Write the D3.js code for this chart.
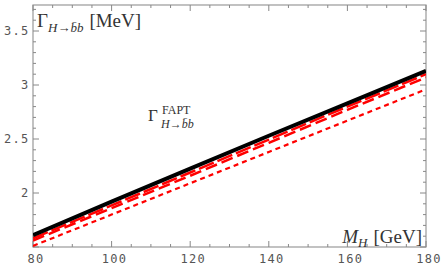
<!DOCTYPE html>
<html>
<head>
<meta charset="utf-8">
<script src="https://cdn.jsdelivr.net/npm/d3@7"></script>
<style>
  body { margin: 0; background: #fff; }
  .tick-label { font-family: "DejaVu Sans Mono", monospace; font-size: 12px; fill: #555; letter-spacing: 1.3px; }
  .math { font-family: "Liberation Serif", serif; fill: #333; }
</style>
</head>
<body>
<svg id="chart" width="441" height="273"></svg>
<script>
// values
const massH = [80, 100, 120, 140, 160, 180];
const gammaBlack = [1.61, 1.92, 2.225, 2.53, 2.83, 3.13];
const gammaLongDash = [1.58, 1.885, 2.19, 2.495, 2.80, 3.10];
const gammaMidDash = [1.56, 1.86, 2.16, 2.465, 2.77, 3.07];
const gammaShortDash = [1.51, 1.80, 2.09, 2.38, 2.67, 2.96];
const xTicks = [80, 100, 120, 140, 160, 180];
const yTicks = [2, 2.5, 3, 3.5];

const svg = d3.select('#chart');
const plotL = 33, plotR = 426, plotT = 5, plotB = 247;

const x = d3.scaleLinear().domain([80, 180]).range([plotL, plotR]);
const y = d3.scaleLinear().domain([2, 3]).range([193, 85]);

// frame
svg.append('rect')
    .attr('x', plotL).attr('y', plotT)
    .attr('width', plotR - plotL).attr('height', plotB - plotT)
    .attr('fill', 'none').attr('stroke', '#999').attr('stroke-width', 1.2);

// ticks on all four sides
const tickCol = '#888';
d3.range(80, 181, 5).forEach(v => {
    const len = v % 20 === 0 ? 6 : 3;
    svg.append('line').attr('x1', x(v)).attr('x2', x(v)).attr('y1', plotB).attr('y2', plotB - len).attr('stroke', tickCol);
    svg.append('line').attr('x1', x(v)).attr('x2', x(v)).attr('y1', plotT).attr('y2', plotT + len).attr('stroke', tickCol);
});
d3.range(15, 38).map(d => d / 10).forEach(v => {
    if (y(v) < plotT || y(v) > plotB) return;
    const len = Math.abs(v * 2 - Math.round(v * 2)) < 1e-6 ? 6 : 3;
    svg.append('line').attr('x1', plotL).attr('x2', plotL + len).attr('y1', y(v)).attr('y2', y(v)).attr('stroke', tickCol);
    svg.append('line').attr('x1', plotR).attr('x2', plotR - len).attr('y1', y(v)).attr('y2', y(v)).attr('stroke', tickCol);
});

// tick labels
xTicks.forEach(v => {
    svg.append('text').attr('class', 'tick-label')
        .attr('x', x(v) + 3).attr('y', 263).attr('text-anchor', 'middle')
        .text(v);
});
yTicks.forEach(v => {
    svg.append('text').attr('class', 'tick-label')
        .attr('x', 29.5).attr('y', y(v) + 4).attr('text-anchor', 'end')
        .text(v);
});

// curves
const line = vals => d3.line()
    .x((d, i) => x(massH[i]))
    .y(d => y(d))(vals);

svg.append('clipPath').attr('id', 'clip')
    .append('rect').attr('x', plotL).attr('y', plotT).attr('width', plotR - plotL).attr('height', plotB - plotT);
const g = svg.append('g').attr('clip-path', 'url(#clip)');

g.append('path').attr('d', line(gammaShortDash))
    .attr('fill', 'none').attr('stroke', '#f00').attr('stroke-width', 2.2).attr('stroke-dasharray', '5,4');
g.append('path').attr('d', line(gammaMidDash))
    .attr('fill', 'none').attr('stroke', '#f00').attr('stroke-width', 2.5).attr('stroke-dasharray', '12,5');
g.append('path').attr('d', line(gammaLongDash))
    .attr('fill', 'none').attr('stroke', '#f00').attr('stroke-width', 2.5).attr('stroke-dasharray', '16,4');
g.append('path').attr('d', line(gammaBlack))
    .attr('fill', 'none').attr('stroke', '#000').attr('stroke-width', 4);

// y axis title
const yt = svg.append('text').attr('class', 'math').attr('x', 37).attr('y', 27).style('font-size', '19px');
yt.append('tspan').text('Γ');
yt.append('tspan').attr('dy', 5).style('font-size', '13px').style('font-style', 'italic').text('H');
yt.append('tspan').style('font-size', '13px').text('→');
yt.append('tspan').style('font-size', '13px').style('font-style', 'italic').text('b\u0304b');
yt.append('tspan').attr('dy', -5).attr('dx', 6).text('[MeV]');

// x axis title
const xt = svg.append('text').attr('class', 'math').attr('x', 422).attr('y', 243)
    .attr('text-anchor', 'end').style('font-size', '19px');
xt.append('tspan').style('font-style', 'italic').text('M');
xt.append('tspan').attr('dy', 4).style('font-size', '13px').style('font-style', 'italic').text('H');
xt.append('tspan').attr('dy', -4).attr('dx', 6).text('[GeV]');

// in-plot label
svg.append('text').attr('class', 'math').attr('x', 148).attr('y', 121).style('font-size', '17px').text('Γ');
svg.append('text').attr('class', 'math').attr('x', 162).attr('y', 114).style('font-size', '12px').text('FAPT');
const sub = svg.append('text').attr('class', 'math').attr('x', 161).attr('y', 128).style('font-size', '12px');
sub.append('tspan').style('font-style', 'italic').text('H');
sub.append('tspan').text('→');
sub.append('tspan').style('font-style', 'italic').text('b\u0304b');
</script>
</body>
</html>
